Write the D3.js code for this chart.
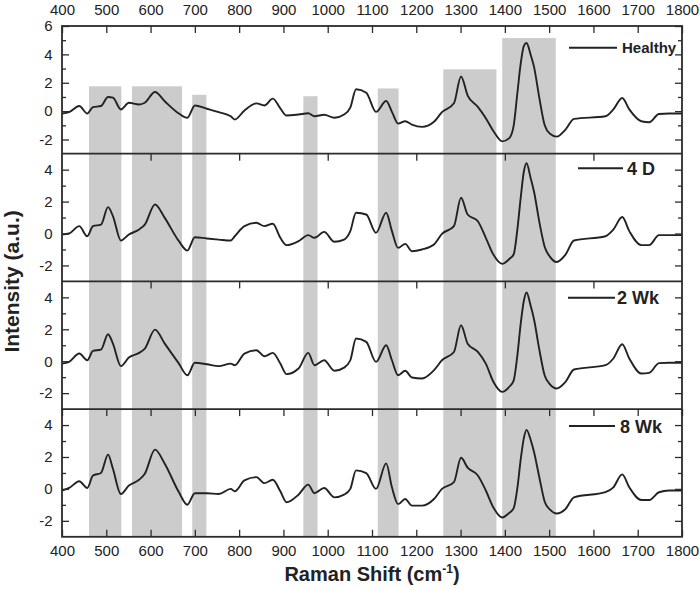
<!DOCTYPE html>
<html>
<head>
<meta charset="utf-8">
<script src="https://cdn.jsdelivr.net/npm/d3@7"></script>
<style>
  body { margin: 0; background: #fff; }
  text { font-family: 'Liberation Sans', Arial, Helvetica, sans-serif; }
</style>
</head>
<body>
<div id="chart"></div>
<script>
// Raman shift grid shared by all four spectra (cm-1)
const shift = [
  400, 416, 439, 457, 470, 488, 504, 515, 533, 551, 574, 587, 610, 632, 664, 683,
  700, 727, 754, 781, 790, 812, 839, 857, 876, 893, 907, 934, 956, 970, 992, 1015,
  1037, 1051, 1064, 1087, 1109, 1132, 1145, 1159, 1175, 1190, 1213, 1240, 1258, 1285,
  1301, 1316, 1339, 1357, 1374, 1394, 1410, 1420, 1428, 1436, 1443, 1449, 1458, 1466,
  1478, 1490, 1502, 1517, 1537, 1556, 1627, 1645, 1665, 1681, 1708, 1726, 1748, 1771, 1800
];

const healthy = [
  -0.17, -0.07, 0.36, -0.17, 0.28, 0.36, 1.0, 0.95, 0.12, 0.59, 0.47, 0.59, 1.35, 0.7, -0.17, -0.47,
  0.40, 0.17, -0.07, -0.36, -0.59, 0.05, 0.55, 0.40, 0.88, 0.2, -0.31, -0.24, -0.15, -0.36, -0.25, -0.47,
  -0.24, 0.24, 1.54, 1.30, -0.05, 0.71, -0.05, -0.88, -0.71, -0.95, -1.11, -0.75, -0.07, 0.55,
  2.44, 1.1, 0.3, -0.5, -1.4, -2.13, -1.9, -1.0, 1.2, 3.4, 4.6, 4.8, 4.0, 3.1,
  0.9, -1.0, -1.6, -1.8, -1.30, -0.55, -0.36, 0.12, 0.93, 0.12, -0.71, -0.78, -0.2, -0.17, -0.17
];

const fourDay = [
  -0.06, 0, 0.46, -0.17, 0.46, 0.56, 1.65, 1.09, -0.44, -0.06, 0.25, 0.56, 1.82, 0.98, -0.48, -1.07,
  -0.23, -0.31, -0.38, -0.44, -0.17, 0.46, 0.67, 0.46, 0.61, -0.27, -0.73, -0.48, -0.1, -0.27, 0.1, -0.52,
  -0.38, 0.15, 1.30, 1.19, 0.04, 1.30, 0.15, -0.9, -0.65, -1.11, -1.0, -0.69, -0.02, 0.46,
  2.24, 1.19, 0.77, -0.27, -1.32, -1.90, -1.6, -1.3, 0.2, 2.3, 3.9, 4.4, 3.5, 2.6,
  0.7, -0.84, -1.46, -1.78, -1.32, -0.44, -0.17, 0.25, 1.03, 0.15, -0.73, -0.73, -0.1, -0.1, -0.1
];

const twoWeek = [
  -0.15, -0.04, 0.48, 0.06, 0.65, 0.73, 1.69, 1.10, -0.31, 0.23, 0.52, 0.79, 1.98, 1.10, -0.15, -0.88,
  -0.10, -0.19, -0.31, -0.15, -0.25, 0.48, 0.69, 0.31, 0.52, -0.15, -0.81, -0.46, 0.52, -0.25, 0.06, -0.60,
  -0.40, 0.06, 1.42, 1.21, -0.04, 1.0, 0.06, -0.88, -0.60, -1.02, -1.08, -0.56, 0.06, 0.58,
  2.25, 1.10, 0.58, -0.15, -1.29, -1.92, -1.6, -1.2, 0.3, 2.4, 3.8, 4.3, 3.5, 2.6,
  0.7, -0.9, -1.45, -1.71, -1.29, -0.52, -0.25, 0.17, 1.06, 0.17, -0.77, -0.73, -0.12, -0.10, -0.10
];

const eightWeek = [
  -0.1, 0.06, 0.48, 0.06, 0.84, 1.0, 2.15, 1.26, -0.32, 0.21, 0.57, 0.95, 2.46, 1.58, -0.21, -0.99,
  -0.27, -0.27, -0.32, 0, -0.15, 0.53, 0.74, 0.36, 0.57, -0.15, -0.84, -0.36, 0.27, -0.27, 0.06, -0.53,
  -0.36, 0, 1.16, 0.99, 0, 1.6, 0.1, -0.95, -0.63, -1.05, -1.05, -0.63, 0, 0.42,
  1.95, 1.33, 0.84, -0.1, -1.16, -1.79, -1.5, -1.2, 0.0, 1.9, 3.2, 3.7, 3.1, 2.3,
  0.7, -0.8, -1.3, -1.54, -1.26, -0.53, -0.2, 0.1, 0.91, 0.1, -0.69, -0.69, -0.21, -0.1, -0.1
];

const seriesNames = ['Healthy', '4 D', '2 Wk', '8 Wk'];
const seriesValues = [healthy, fourDay, twoWeek, eightWeek];

// highlighted bands: start, end (cm-1) and top (intensity in the Healthy panel)
const bandStart = [461, 558, 694, 945, 1113, 1261, 1394];
const bandEnd = [534, 671, 726, 977, 1160, 1381, 1515];
const bandTop = [1.75, 1.75, 1.15, 1.05, 1.6, 2.95, 5.15];

const xTicks = d3.range(400, 1801, 100);
const xTicksMid = [600, 800, 1000, 1200, 1400, 1600];

// layout
const W = 700, H = 590;
const plotLeft = 62, plotRight = 682, plotTop = 26, panelH = 127.7;
const ink = '#2b2b2b';

const svg = d3.select('#chart').append('svg').attr('width', W).attr('height', H);

const x = d3.scaleLinear().domain([400, 1800]).range([plotLeft, plotRight]);

const panels = seriesNames.map((name, i) => {
  const t = plotTop + i * panelH;
  const yMax = i === 0 ? 6 : 5;
  return {
    name: name,
    values: seriesValues[i],
    top: t,
    bottom: t + panelH,
    y: d3.scaleLinear().domain([-3, yMax]).range([t + panelH, t]),
    major: i === 0 ? [-2, 0, 2, 4, 6] : [-2, 0, 2, 4],
    minor: i === 0 ? [-1, 1, 3, 5] : [-1, 1, 3],
  };
});
const plotBottom = panels[3].bottom;

// grey bands
svg.append('g')
  .selectAll('rect')
  .data(bandStart.map((s, i) => ({ s: s, e: bandEnd[i], t: bandTop[i] })))
  .enter()
  .append('rect')
  .attr('x', (d) => x(d.s))
  .attr('width', (d) => x(d.e) - x(d.s))
  .attr('y', (d) => panels[0].y(d.t))
  .attr('height', (d) => plotBottom - panels[0].y(d.t))
  .attr('fill', '#cccccc');

// spectra
panels.forEach((p) => {
  const line = d3.line()
    .x((d, j) => x(shift[j]))
    .y((d) => p.y(d))
    .curve(d3.curveMonotoneX);
  svg.append('path')
    .datum(p.values)
    .attr('d', line)
    .attr('fill', 'none')
    .attr('stroke', '#222')
    .attr('stroke-width', 1.9)
    .attr('stroke-linejoin', 'round');
});

function styleAxis(g) {
  g.select('.domain').remove();
  g.selectAll('.tick line').attr('stroke', ink).attr('stroke-width', 1.3);
  g.selectAll('.tick text').attr('fill', '#222').style('font-size', '15px');
}

const fmt = (d) => String(d);

panels.forEach((p, i) => {
  // left axis, major with labels and minor ticks
  svg.append('g')
    .attr('transform', `translate(${plotLeft},0)`)
    .call(d3.axisLeft(p.y).tickValues(p.major).tickSize(-7).tickPadding(9.5).tickFormat(fmt))
    .call(styleAxis);
  svg.append('g')
    .attr('transform', `translate(${plotLeft},0)`)
    .call(d3.axisLeft(p.y).tickValues(p.minor).tickSize(-4).tickFormat(''))
    .call(styleAxis);
  // right axis
  svg.append('g')
    .attr('transform', `translate(${plotRight},0)`)
    .call(d3.axisRight(p.y).tickValues(p.major).tickSize(-7).tickFormat(''))
    .call(styleAxis);
  svg.append('g')
    .attr('transform', `translate(${plotRight},0)`)
    .call(d3.axisRight(p.y).tickValues(p.minor).tickSize(-4).tickFormat(''))
    .call(styleAxis);

  // top ticks of each panel
  if (i === 0) {
    svg.append('g')
      .attr('transform', `translate(0,${p.top})`)
      .call(d3.axisTop(x).tickValues(xTicks).tickSize(-7).tickPadding(11).tickFormat(fmt))
      .call(styleAxis);
  } else {
    svg.append('g')
      .attr('transform', `translate(0,${p.top})`)
      .call(d3.axisTop(x).tickValues(i === 3 ? xTicks : xTicksMid).tickSize(-7).tickFormat(''))
      .call(styleAxis);
  }
});

// bottom axis
svg.append('g')
  .attr('transform', `translate(0,${plotBottom})`)
  .call(d3.axisBottom(x).tickValues(xTicks).tickSize(-7).tickPadding(8.5).tickFormat(fmt))
  .call(styleAxis);

// frame and panel separators
svg.append('rect')
  .attr('x', plotLeft)
  .attr('y', plotTop)
  .attr('width', plotRight - plotLeft)
  .attr('height', plotBottom - plotTop)
  .attr('fill', 'none')
  .attr('stroke', ink)
  .attr('stroke-width', 1.8);
panels.slice(1).forEach((p) => {
  svg.append('line')
    .attr('x1', plotLeft).attr('x2', plotRight)
    .attr('y1', p.top).attr('y2', p.top)
    .attr('stroke', ink)
    .attr('stroke-width', 1.8);
});

// legends
const legendPos = [
  { x1: 569, x2: 617, tx: 622, dy: 21.7, fs: 15 },
  { x1: 578, x2: 623, tx: 627, dy: 14.6, fs: 18 },
  { x1: 568, x2: 615, tx: 617, dy: 16.3, fs: 18 },
  { x1: 569, x2: 615, tx: 620, dy: 17, fs: 18 },
];
panels.forEach((p, i) => {
  const L = legendPos[i];
  const ly = p.top + L.dy;
  svg.append('line')
    .attr('x1', L.x1).attr('x2', L.x2)
    .attr('y1', ly).attr('y2', ly)
    .attr('stroke', '#222')
    .attr('stroke-width', 2);
  svg.append('text')
    .attr('x', L.tx)
    .attr('y', ly + L.fs * 0.37)
    .style('font-size', L.fs + 'px')
    .style('font-weight', 'bold')
    .attr('fill', '#222')
    .text(p.name);
});

// axis titles
const xTitle = svg.append('text')
  .attr('x', (plotLeft + plotRight) / 2)
  .attr('y', 581)
  .attr('text-anchor', 'middle')
  .style('font-size', '20px')
  .style('font-weight', 'bold')
  .attr('fill', '#222');
xTitle.append('tspan').text('Raman Shift (cm');
xTitle.append('tspan').attr('dy', -8).style('font-size', '12px').text('-1');
xTitle.append('tspan').attr('dy', 8).text(')');

svg.append('text')
  .attr('transform', `translate(19,${(plotTop + plotBottom) / 2}) rotate(-90)`)
  .attr('text-anchor', 'middle')
  .style('font-size', '21px')
  .style('font-weight', 'bold')
  .attr('fill', '#222')
  .text('Intensity (a.u.)');
</script>
</body>
</html>
